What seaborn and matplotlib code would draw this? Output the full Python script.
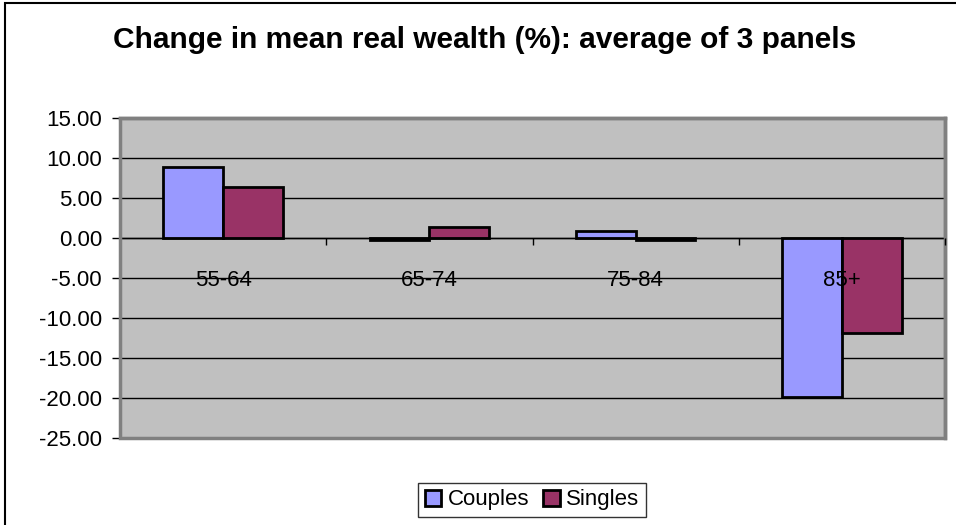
import matplotlib
matplotlib.use("Agg")
import matplotlib.pyplot as plt
import matplotlib.ticker as mticker
from matplotlib.patches import Rectangle
import pandas as pd
import seaborn as sns

# values
age_groups = ["55-64", "65-74", "75-84", "85+"]
couples = [8.9, -0.2, 0.9, -19.9]
singles = [6.4, 1.4, -0.2, -11.9]
series_names = ["Couples", "Singles"]
series_colors = ["#9999FF", "#993366"]
y_ticks = [15, 10, 5, 0, -5, -10, -15, -20, -25]

df = pd.DataFrame({
	"Age": age_groups * 2,
	"Change": couples + singles,
	"Group": [series_names[0]] * len(age_groups) + [series_names[1]] * len(age_groups),
})

sns.set_theme(style="white")
plt.rcParams["font.family"] = ["Liberation Sans", "DejaVu Sans"]
plt.rcParams["text.color"] = "black"
plt.rcParams["xtick.color"] = "black"
plt.rcParams["ytick.color"] = "black"

label_size = 16

fig = plt.figure(figsize=(9.56, 5.25), dpi=100)
ax = fig.add_axes([120 / 956, 1 - 438 / 525, 825 / 956, 320 / 525])
ax.set_facecolor("#C0C0C0")

sns.barplot(
	data=df, x="Age", y="Change", hue="Group", order=age_groups, hue_order=series_names,
	palette=series_colors, edgecolor="black", linewidth=2, width=0.58, gap=0,
	saturation=1, ax=ax, zorder=3,
)

ax.set_xlim(-0.5, len(age_groups) - 0.5)
ax.set_ylim(min(y_ticks), max(y_ticks))
ax.set_yticks(y_ticks)
ax.yaxis.set_major_formatter(mticker.FormatStrFormatter("%.2f"))
ax.yaxis.grid(True, color="black", linewidth=1)
ax.set_axisbelow(True)
ax.xaxis.set_zorder(6)  # category labels sit on top of the bars, like Excel
ax.set_xlabel("")
ax.set_ylabel("")

# plot area border (gray), y axis black, x axis crossing at zero
for side in ["top", "right"]:
	ax.spines[side].set_color("#808080")
	ax.spines[side].set_linewidth(2.5)
ax.spines["left"].set_color("black")
ax.spines["left"].set_linewidth(1.2)
ax.spines["bottom"].set_position(("data", 0))
ax.spines["bottom"].set_color("black")
ax.spines["bottom"].set_linewidth(1)
ax.spines["bottom"].set_zorder(4)
ax.add_patch(Rectangle((0, 0), 1, 1, transform=ax.transAxes, fill=False,
	edgecolor="#808080", linewidth=2.5, zorder=5, clip_on=False))

ax.tick_params(axis="y", which="major", left=True, length=6, width=1,
	labelsize=label_size, pad=7)
ax.tick_params(axis="x", which="major", bottom=False, labelsize=label_size, pad=17)
ax.xaxis.set_minor_locator(mticker.FixedLocator([0.5, 1.5, 2.5, 3.5]))
ax.tick_params(axis="x", which="minor", bottom=True, length=5, width=1)

fig.text(485 / 956, 1 - 40 / 525, "Change in mean real wealth (%): average of 3 panels",
	ha="center", va="center", fontsize=21.5, fontweight="bold")

handles, labels = ax.get_legend_handles_labels()
ax.get_legend().remove()
leg = fig.legend(handles, labels, loc="center", bbox_to_anchor=(532 / 956, 1 - 500 / 525),
	ncol=2, frameon=True, fontsize=label_size, handlelength=0.75, handleheight=0.75,
	handletextpad=0.3, columnspacing=0.6, borderpad=0.3, borderaxespad=0.3, fancybox=False)
leg.get_frame().set_edgecolor("black")
leg.get_frame().set_linewidth(1)
for h in leg.legend_handles:
	h.set_edgecolor("black")
	h.set_linewidth(2)

# outer chart border (top and left only visible in reference)
fig.add_artist(Rectangle((5 / 956, -0.1), 1.2, 1 - 3 / 525 + 0.1, transform=fig.transFigure,
	fill=False, edgecolor="black", linewidth=1.5))

fig.savefig("out.png", dpi=100)
